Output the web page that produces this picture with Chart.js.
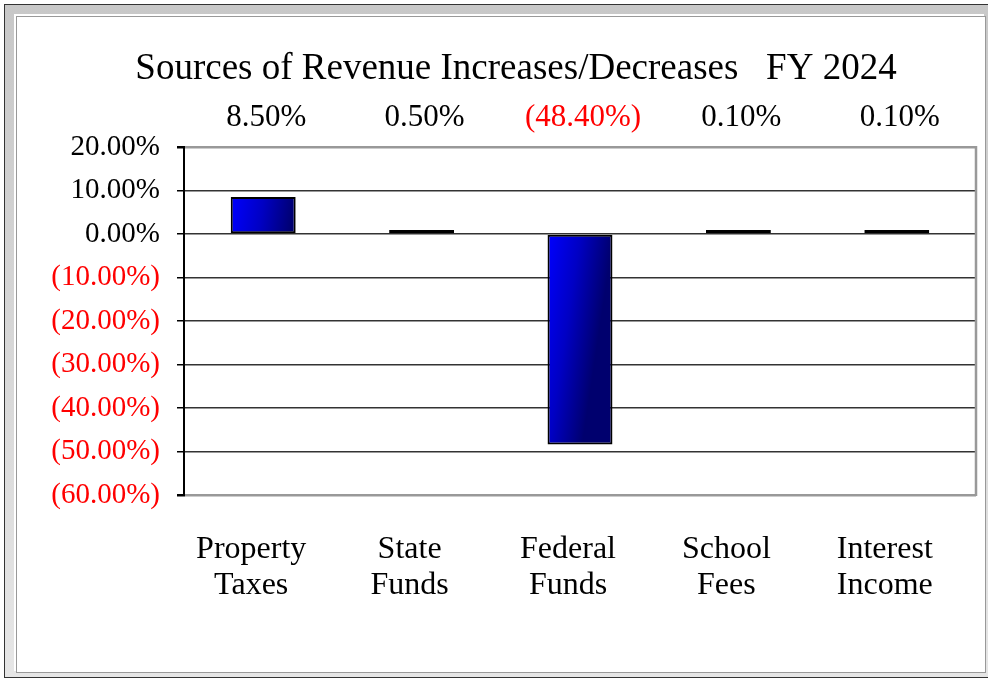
<!DOCTYPE html>
<html>
<head>
<meta charset="utf-8">
<script src="https://cdn.jsdelivr.net/npm/chart.js@4"></script>
<style>
  body { margin: 0; background: #fff; }
  .frame {
    position: absolute; left: 4px; top: 4px; width: 1000px; height: 674px;
    box-sizing: border-box; border: 1px solid #333;
    background: linear-gradient(#c8c8c8, #e6e6e6);
  }
  .inner {
    position: absolute; left: 11px; top: 11px; width: 970px; bottom: 4px;
    box-sizing: border-box; background: #fff;
    border: 1px solid #999; box-shadow: -2px -2px 0 #fff;
  }
  #chart { position: absolute; left: 0; top: 0; }
</style>
</head>
<body>
<div class="frame"><div class="inner"></div></div>
<canvas id="chart" width="988" height="681"></canvas>
<script>
const chartTitle = "Sources of Revenue Increases/Decreases   FY 2024";
const categories = [
  ["Property", "Taxes"],
  ["State", "Funds"],
  ["Federal", "Funds"],
  ["School", "Fees"],
  ["Interest", "Income"],
];
const changes = [8.5, 0.5, -48.4, 0.1, 0.1];
const yTicks = { min: -60, max: 20, step: 10 };

const serif = "'Liberation Serif', 'Times New Roman', serif";

const pct = (v) =>
  v < 0 ? "(" + Math.abs(v).toFixed(2) + "%)" : v.toFixed(2) + "%";

// blue-to-navy gradient for each bar
function barFill(context) {
  const chart = context.chart;
  const area = chart.chartArea;
  const xs = chart.scales.x;
  if (!area || !xs) return "#0000ff";
  const cx = xs.getPixelForValue(context.dataIndex);
  const w = (xs.width / categories.length) * 0.41;
  const top = chart.scales.y.getPixelForValue(Math.max(context.raw, 0));
  const g = chart.ctx.createLinearGradient(cx - w / 2, top, cx + w / 2, top + w * 0.15);
  g.addColorStop(0, "#0000ff");
  g.addColorStop(0.5, "#0000c4");
  g.addColorStop(1, "#00006e");
  return g;
}

// title, value labels above the plot and the grey right border
const extras = {
  id: "extras",
  afterDatasetsDraw(chart) {
    const { ctx, chartArea } = chart;
    const xs = chart.scales.x;
    ctx.save();
    ctx.strokeStyle = "#999";
    ctx.lineWidth = 2.5;
    ctx.beginPath();
    ctx.moveTo(chartArea.right, chartArea.top - 1);
    ctx.lineTo(chartArea.right, chartArea.bottom + 1);
    ctx.stroke();

    ctx.textAlign = "center";
    ctx.textBaseline = "alphabetic";
    ctx.fillStyle = "#000";
    ctx.font = "37px " + serif;
    ctx.fillText(chartTitle, 516, 79);

    ctx.textBaseline = "middle";
    ctx.font = "31px " + serif;
    changes.forEach((v, i) => {
      ctx.fillStyle = v < 0 ? "#ff0000" : "#000";
      ctx.fillText(pct(v), xs.getPixelForValue(i) + 3, chartArea.top - 29);
    });
    ctx.restore();
  },
};

new Chart(document.getElementById("chart"), {
  type: "bar",
  data: {
    labels: categories,
    datasets: [
      {
        data: changes,
        backgroundColor: barFill,
        borderColor: "#000",
        borderWidth: 2,
        borderSkipped: false,
        minBarLength: 4,
        barPercentage: 0.41,
        categoryPercentage: 1,
      },
    ],
  },
  options: {
    responsive: false,
    animation: false,
    layout: { padding: { left: 0, right: 12, top: 147, bottom: 0 } },
    plugins: {
      legend: { display: false },
      tooltip: { enabled: false },
      title: { display: false },
    },
    scales: {
      x: {
        grid: { display: false },
        border: { display: false },
        ticks: {
          color: "#000",
          font: { family: serif, size: 32, lineHeight: 1.125 },
          padding: 29,
          labelOffset: -12,
          maxRotation: 0,
          autoSkip: false,
        },
        afterFit(s) { s.height = 186; },
      },
      y: {
        min: yTicks.min,
        max: yTicks.max,
        border: { color: "#000", width: 2 },
        grid: {
          color: (c) => (c.tick.value === yTicks.max || c.tick.value === yTicks.min ? "#999" : "#333"),
          lineWidth: (c) => (c.tick.value === yTicks.max || c.tick.value === yTicks.min ? 2.5 : 1.5),
          tickColor: "#000",
          tickLength: 7,
        },
        ticks: {
          stepSize: yTicks.step,
          padding: 17,
          color: (c) => (c.tick.value < 0 ? "#ff0000" : "#000"),
          font: { family: serif, size: 29 },
          callback: (v) => pct(v),
        },
        afterFit(s) { s.width = 184; },
      },
    },
  },
  plugins: [extras],
});
</script>
</body>
</html>
